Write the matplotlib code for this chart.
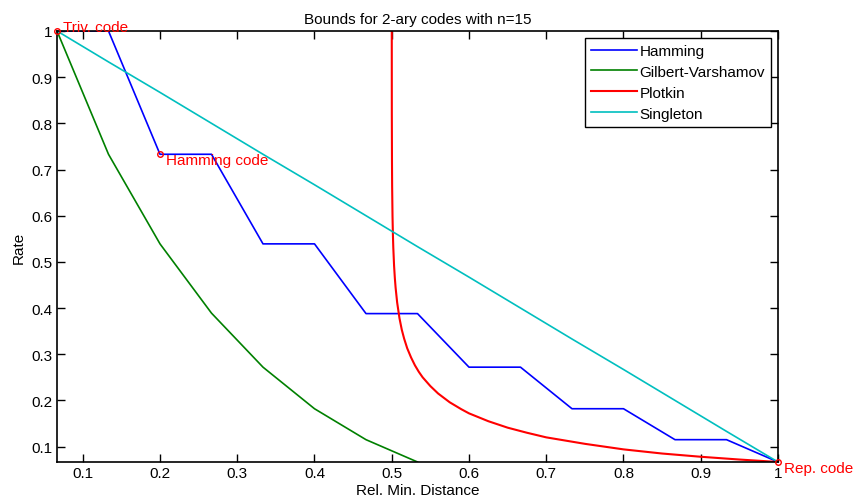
import matplotlib.pyplot as plt

plt.rcParams['font.family'] = ['Liberation Sans', 'DejaVu Sans']

n = 15
rel_dist = [1/15, 2/15, 3/15, 4/15, 5/15, 6/15, 7/15, 8/15, 9/15, 10/15,
            11/15, 12/15, 13/15, 14/15, 15/15]

hamming = [1.0, 1.0, 0.733, 0.733, 0.539, 0.539, 0.388, 0.388, 0.272, 0.272,
           0.182, 0.182, 0.115, 0.115, 0.0667]
gv = [1.0, 0.733, 0.539, 0.389, 0.272, 0.182, 0.115, 0.0667]
singleton = [1.0, 0.933, 0.867, 0.8, 0.733, 0.667, 0.6, 0.533, 0.467, 0.4,
             0.333, 0.267, 0.2, 0.133, 0.0667]

plotkin_x = [0.50001, 0.5001, 0.5003, 0.5005, 0.501, 0.5015, 0.502, 0.503,
             0.504, 0.505, 0.507, 0.51, 0.513, 0.516, 0.52, 0.525, 0.53,
             0.535, 0.54, 0.55, 0.56, 0.575, 0.59, 0.6, 0.625, 0.65, 0.675,
             0.7, 0.75, 0.8, 0.85, 0.9, 0.95, 1.0]
plotkin_y = [1.04, 0.82, 0.717, 0.664, 0.598, 0.559, 0.531, 0.492, 0.465,
             0.444, 0.412, 0.378, 0.353, 0.334, 0.313, 0.293, 0.276, 0.262,
             0.250, 0.231, 0.215, 0.196, 0.181, 0.172, 0.155, 0.141, 0.130,
             0.120, 0.106, 0.094, 0.085, 0.078, 0.072, 0.0667]

codes = ['Triv. code', 'Hamming code', 'Rep. code']
code_x = [1/15, 0.2, 1.0]
code_y = [1.0, 0.733, 0.0667]

fig = plt.figure(figsize=(8.61, 5.02), dpi=100)
ax = fig.add_axes([0.0662, 0.0777, 0.8374, 0.8586])

ax.plot(rel_dist, hamming, color='#0000FF', lw=1.2, label='Hamming')
ax.plot(rel_dist[:len(gv)], gv, color='#008000', lw=1.2, label='Gilbert-Varshamov')
ax.plot(plotkin_x, plotkin_y, color='#FF0000', lw=1.5, label='Plotkin')
ax.plot(rel_dist, singleton, color='#00BFBF', lw=1.2, label='Singleton')

ax.plot(code_x, code_y, 'o', ms=4, mfc='none', mec='#FF0000', mew=1.0,
        clip_on=False, zorder=5)
for name, x, y in zip(codes, code_x, code_y):
    dy = 3 if name == 'Triv. code' else -4
    ax.annotate(name, (x, y), xytext=(4, dy), textcoords='offset points',
                color='#FF0000', fontsize=11, ha='left', va='center',
                annotation_clip=False)

ax.set_xlim(1/15, 1)
ax.set_ylim(1/15, 1)
ax.set_xticks([0.1, 0.2, 0.3, 0.4, 0.5, 0.6, 0.7, 0.8, 0.9, 1])
ax.set_xticklabels(['0.1', '0.2', '0.3', '0.4', '0.5', '0.6', '0.7', '0.8', '0.9', '1'])
ax.set_yticks([0.1, 0.2, 0.3, 0.4, 0.5, 0.6, 0.7, 0.8, 0.9, 1])
ax.set_yticklabels(['0.1', '0.2', '0.3', '0.4', '0.5', '0.6', '0.7', '0.8', '0.9', '1'])
ax.tick_params(direction='in', top=True, right=True, labelsize=11, length=6,
               width=1, pad=3)
for s in ax.spines.values():
    s.set_linewidth(1.2)

ax.set_title('Bounds for 2-ary codes with n=15', fontsize=11, pad=6)
ax.set_xlabel('Rel. Min. Distance', fontsize=11, labelpad=2)
ax.set_ylabel('Rate', fontsize=11, labelpad=4)

leg = ax.legend(loc='upper right', fontsize=11, fancybox=False, framealpha=1,
                edgecolor='black', handlelength=3.0, handletextpad=0.15,
                borderaxespad=0.45, labelspacing=0.45, borderpad=0.4)
leg.get_frame().set_linewidth(1.0)

plt.savefig('out.png', dpi=100)
